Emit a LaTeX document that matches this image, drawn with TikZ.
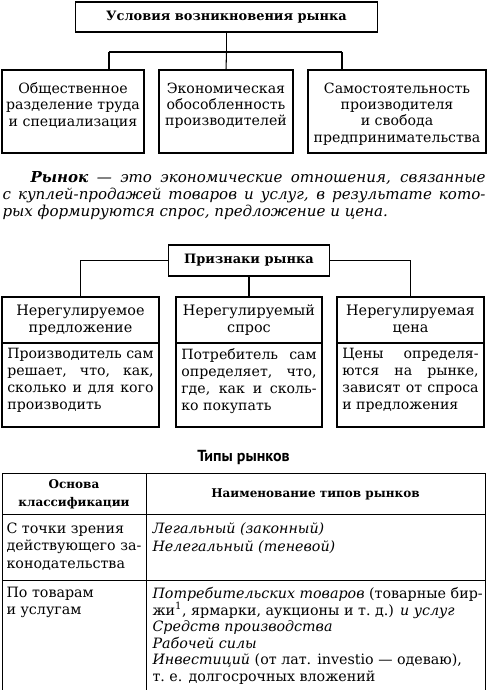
\documentclass[tikz,border=0pt]{standalone}
\usepackage{fontspec}
\setmainfont{DejaVu Serif}
\newfontfamily\captionsans{PT Sans}
\usetikzlibrary{positioning}

% text set from the top of a box of fixed height
\newcommand{\toptext}[3]{\parbox[c][#1][t]{#2}{#3}}

\begin{document}
\begin{tikzpicture}[x=.75pt,y=-.75pt,line width=.8pt,
  headbox/.style={draw,inner sep=0pt,outer sep=0pt,
    font=\fontsize{9.7}{11}\selectfont\bfseries},
  condbox/.style={draw,inner xsep=0pt,inner ysep=9.5pt,outer sep=0pt,
    font=\fontsize{10.6}{12.25}\selectfont},
  signhead/.style={draw,align=center,inner sep=0pt,outer sep=0pt,
    minimum height=34.5pt,font=\fontsize{10.8}{12.75}\selectfont},
  signtext/.style={draw,inner ysep=4pt,outer sep=0pt,
    font=\fontsize{10.6}{12.75}\selectfont},
  cell/.style={anchor=north west,align=left,inner sep=0pt,
    font=\fontsize{10.7}{12.4}\selectfont},
  cellhead/.style={align=center,inner sep=0pt,
    font=\fontsize{9}{13.5}\selectfont\bfseries}]
\useasboundingbox (0,0) rectangle (488,690);

% conditions
\node[headbox,minimum width=226.5pt,minimum height=22.5pt] (cond) at (226.5,17)
  {Условия возникновения рынка};
\node[condbox] (c1) at (73,111.5)
  {\toptext{43.25pt}{106.5pt}{\centering Общественное\\разделение труда\\и специализация}};
\node[condbox] (c2) at (226,111.5)
  {\toptext{43.25pt}{100.5pt}{\centering Экономическая\\обособленность\\производителей}};
\node[condbox] (c3) at (397,111.5)
  {\toptext{43.25pt}{133.5pt}{\centering Самостоятельность\\производителя\\и свобода\\предпринимательства}};
\coordinate (jl) at (109,52);
\coordinate (jr) at (342,52);
\draw (cond.south) -- (cond.south |- jl);
\draw (jl) -- (jr);
\draw (jl) -- (jl |- c1.north);
\draw (cond.south |- jl) -- (c2.north);
\draw (jr) -- (jr |- c3.north);

% definition
\node[anchor=north west,text width=362.25pt,align=justify,inner sep=0pt,
  font=\fontsize{11.3}{12.75}\selectfont\itshape] (def) at (2,171)
  {\hspace*{21pt}\textbf{Рынок} — это экономические отношения, связанные\linebreak
   с куплей-продажей товаров и услуг, в результате кото-\linebreak
   рых формируются спрос, предложение и цена.};

% signs
\node[headbox,minimum width=120.75pt,minimum height=23.25pt] (signs) at (249,260.5)
  {Признаки рынка};
\node[signhead,minimum width=117.75pt] (sa) at (80.5,320) {Нерегулируемое\\предложение};
\node[signhead,minimum width=109.5pt] (sb) at (249,320) {Нерегулируемый\\спрос};
\node[signhead,minimum width=110.25pt] (sc) at (410.5,320) {Нерегулируемая\\цена};
\node[signtext,inner xsep=4pt,below=0pt of sa] (sa-text)
  {\toptext{55pt}{109.75pt}{Производитель сам\linebreak решает, что, как,\linebreak
   сколько и для кого\linebreak производить}};
\node[signtext,inner xsep=4pt,below=0pt of sb] (sb-text)
  {\toptext{55pt}{101.5pt}{Потребитель сам\linebreak определяет, что,\linebreak
   где, как и сколь-\linebreak ко покупать}};
\node[signtext,inner xsep=4pt,below=0pt of sc] (sc-text)
  {\toptext{55pt}{102.25pt}{Цены определя-\linebreak ются на рынке,\linebreak
   зависят от спроса\linebreak и предложения}};
\draw (signs.west) -| (sa.north);
\draw (signs.east) -| (sc.north);
\draw (signs.south) -- (sb.north);

% types table
\node[font=\captionsans\bfseries\fontsize{12}{14}\selectfont] (types) at (243.5,457)
  {Типы рынков};
\draw[line width=.7pt] (2,690) -- (2,473) -- (485,473) -- (485,690);
\draw[line width=.7pt] (146,473) -- (146,690);
\draw[line width=.7pt] (2,514) -- (485,514);
\draw[line width=.7pt] (2,580) -- (485,580);
\node[cellhead] (basis) at (74,494) {Основа\\классификации};
\node[cellhead] (names) at (315.5,494) {Наименование типов рынков};
\node[cell,font=\fontsize{10.7}{13}\selectfont] (law) at (6,522.5)
  {С точки зрения\\действующего за-\\конодательства};
\node[cell,font=\fontsize{10.7}{13}\selectfont\itshape] (legal) at (152,522.5)
  {Легальный (законный)\\Нелегальный (теневой)};
\node[cell] (goods) at (6,587) {По товарам\\и услугам};
\node[cell] (goodslist) at (152,587)
  {\textit{Потребительских товаров} (товарные бир-\\
   жи\textsuperscript{1}, ярмарки, аукционы и т.~д.) \textit{и услуг}\\
   \textit{Средств производства}\\
   \textit{Рабочей силы}\\
   \textit{Инвестиций} (от лат. investio — одеваю),\\
   т.~е. долгосрочных вложений};
\end{tikzpicture}
\end{document}
